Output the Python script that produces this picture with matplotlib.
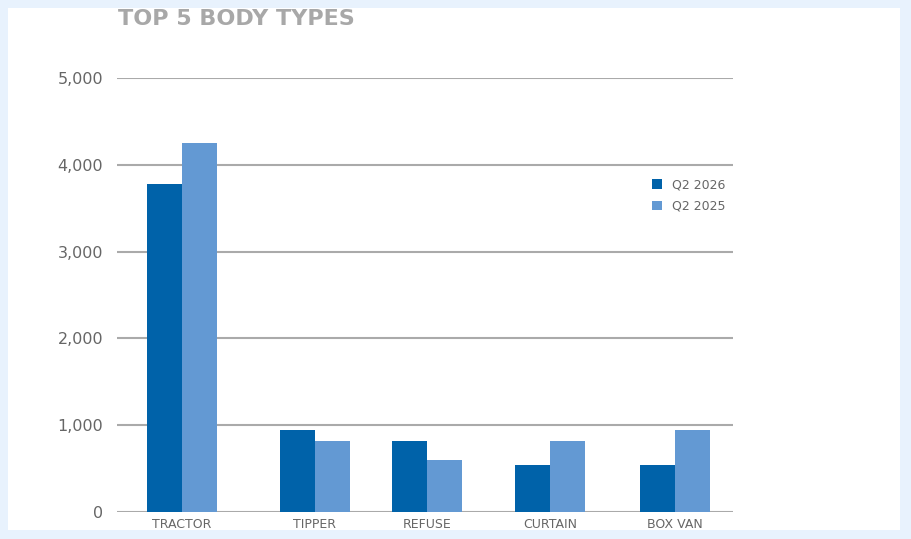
import matplotlib.pyplot as plt
from matplotlib.patches import Rectangle

categories = ['TRACTOR', 'TIPPER', 'REFUSE', 'CURTAIN', 'BOX VAN']
q2_2026 = [3780, 945, 820, 540, 540]
q2_2025 = [4250, 820, 600, 820, 945]

# layout: group centres as drawn in the original (uneven spacing)
centres = [182, 315, 427, 550, 675]
bw = 35

fig = plt.figure(figsize=(9.12, 5.39), dpi=100)
fig.patch.set_facecolor('#e8f2fd')
fig.add_artist(Rectangle((8 / 912, 9 / 539), 892 / 912, 522 / 539,
                         transform=fig.transFigure, facecolor='white',
                         edgecolor='none', zorder=0))

ax = fig.add_axes([117 / 912, 27 / 539, 616 / 912, 434 / 539])
ax.set_facecolor('none')
ax.set_xlim(117, 733)
ax.set_ylim(0, 5000)

ax.bar([c - bw / 2 for c in centres], q2_2026, width=bw, color='#0062a9',
       label='Q2 2026', zorder=3)
ax.bar([c + bw / 2 for c in centres], q2_2025, width=bw, color='#6399d3',
       label='Q2 2025', zorder=3)

ax.set_yticks(range(0, 5001, 1000))
ax.set_yticklabels([f'{v:,}' for v in range(0, 5001, 1000)])
ax.yaxis.grid(True, color='#aaaaaa', lw=1.5, zorder=1)
ax.set_xticks(centres)
ax.set_xticklabels(categories)
ax.tick_params(length=0, colors='#666666', labelsize=11.5)
ax.tick_params(axis='y', pad=10)
ax.tick_params(axis='x', pad=4, labelsize=9)
for s in ax.spines.values():
    s.set_visible(False)

leg = ax.legend(loc='upper left', bbox_to_anchor=(0.85, 0.795), frameon=False,
                handlelength=0.8, handleheight=0.8, labelspacing=0.7,
                fontsize=9, handletextpad=0.8)
for t in leg.get_texts():
    t.set_color('#666666')

fig.text(118 / 912, 1 - 19 / 539, 'TOP 5 BODY TYPES', fontsize=16,
         fontweight='heavy', color='#a8a8a8', va='center', ha='left')

fig.add_artist(Rectangle((0, 0), 1, 9 / 539, transform=fig.transFigure,
                         facecolor='#e8f2fd', edgecolor='none', zorder=10))
fig.add_artist(Rectangle((0, 1 - 8 / 539), 1, 8 / 539,
                         transform=fig.transFigure, facecolor='#e8f2fd',
                         edgecolor='none', zorder=10))

fig.savefig('out.png', dpi=100, facecolor=fig.get_facecolor())
